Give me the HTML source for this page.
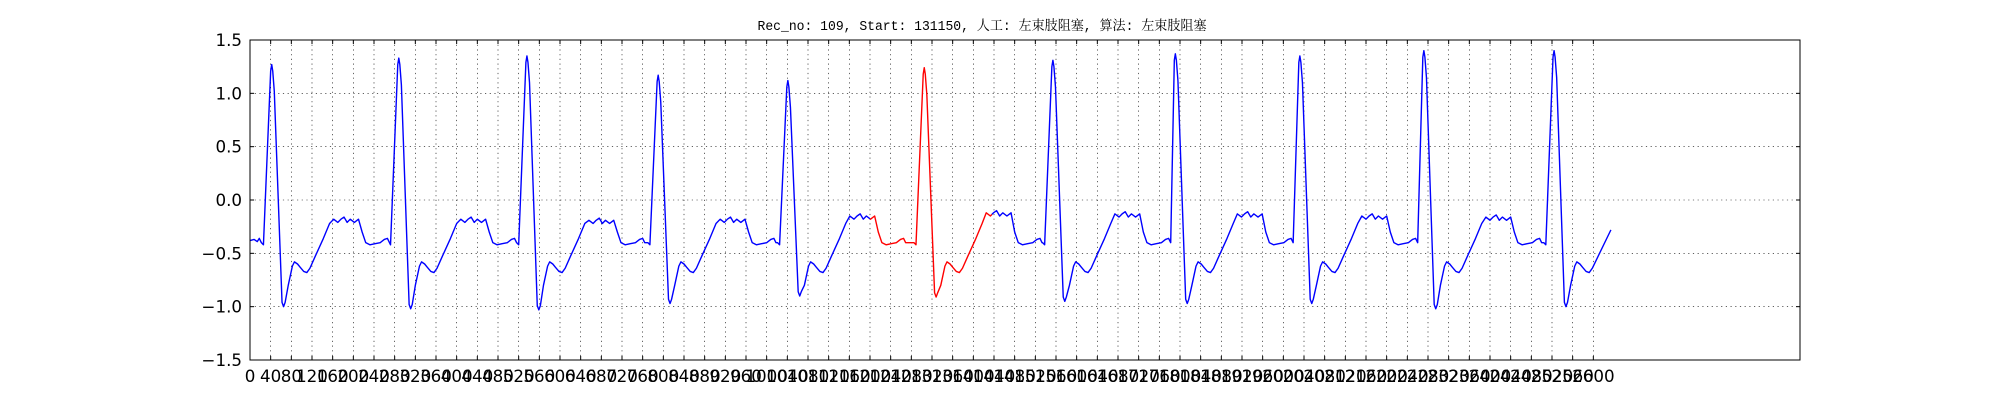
<!DOCTYPE html>
<html><head><meta charset="utf-8">
<style>
html,body{margin:0;padding:0;background:#fff;}
svg{display:block;}
</style></head>
<body>
<svg id="chart" width="2000" height="400" xmlns="http://www.w3.org/2000/svg">
  <rect x="0" y="0" width="2000" height="400" fill="#fff"/>
  <text x="982" y="30" text-anchor="middle" textLength="449" lengthAdjust="spacingAndGlyphs" font-size="13.5" font-family="'Liberation Mono','Noto Serif CJK SC',monospace" fill="#000">Rec_no: 109, Start: 131150, 人工: 左束肢阻塞, 算法: 左束肢阻塞</text>
  <g id="grid"></g>
  <g id="series"></g>
  <rect x="250" y="40" width="1550" height="320" fill="none" stroke="#000" stroke-width="1"/>
  <g id="ticks"></g>
</svg>
<script>
// ---- data ----
const rPeaks = [42, 288, 536, 790, 1041, 1305, 1554, 1791, 2032, 2272, 2524];
const rAmp   = [1.27, 1.33, 1.35, 1.17, 1.12, 1.24, 1.31, 1.37, 1.35, 1.40, 1.40];
const sAmp   = [-1.00, -1.02, -1.03, -0.97, -0.90, -0.91, -0.95, -0.97, -0.97, -1.02, -1.00];
const tAmp   = [-0.18, -0.18, -0.19, -0.18, -0.15, -0.12, -0.13, -0.13, -0.15, -0.16, -0.16];
const beatOffsets = [-20,-16,-2,0,2,5,20,23,26,32,40,44,50,55,62,68,74,85,100,112,120,128,134,140,146,152,160,168,175,182,190,200,210,218,224,228];
const beatValues  = [-0.40,-0.42,'P-',"P",'P-','P--','T+','T','T+',-0.80,-0.62,-0.58,-0.60,-0.63,-0.67,-0.68,-0.64,-0.52,-0.36,-0.22,'TP','TP-','TP','TP+','TP-','TP','TP-','TP',-0.30,-0.40,-0.42,-0.41,-0.40,-0.37,-0.36,-0.40];
const startValues = [[0,-0.38],[8,-0.37],[14,-0.39],[18,-0.36]];
const lastBeatCutoff = 74;
const endSample = 2634;
const endValue = -0.28;
const redStart = 1200, redEnd = 1436;
const xTickStep = 40, xTickMax = 2600, xMax = 3000;
const yTicks = [-1.5,-1.0,-0.5,0.0,0.5,1.0,1.5];
const yTickLabels = ["\u22121.5","\u22121.0","\u22120.5","0.0","0.5","1.0","1.5"];

// ---- axes ----
const L=250,R=1800,T=40,B=360;
const X = s => L + s/xMax*(R-L);
const Y = v => B - (v+1.5)/3*(B-T);
const NS="http://www.w3.org/2000/svg";
function mk(tag, attrs, parent){const e=document.createElementNS(NS,tag);for(const k in attrs)e.setAttribute(k,attrs[k]);parent.appendChild(e);return e;}

const pts = startValues.map(p=>[p[0],p[1]]);
rPeaks.forEach((r,i)=>{
  beatOffsets.forEach((o,j)=>{
    const s=r+o;
    if (i===rPeaks.length-1 && o>lastBeatCutoff) return;
    let v=beatValues[j];
    if (typeof v==='string'){
      if(v==='P')v=rAmp[i];else if(v==='P-')v=rAmp[i]-0.06;else if(v==='P--')v=rAmp[i]-0.25;
      else if(v==='T')v=sAmp[i];else if(v==='T+')v=sAmp[i]+0.04;
      else if(v==='TP')v=tAmp[i];else if(v==='TP-')v=tAmp[i]-0.03;else if(v==='TP+')v=tAmp[i]+0.02;
    }
    if (s>pts[pts.length-1][0]) pts.push([s,v]);
  });
});
pts.push([endSample,endValue]);

const grid=document.getElementById('grid');
const ticks=document.getElementById('ticks');
for(let t=0;t<=xTickMax;t+=xTickStep){
  const x=X(t);
  const g=mk('line',{x1:x,y1:T,x2:x,y2:B,stroke:'#000','stroke-width':0.6,'stroke-dasharray':'1.2,3.5'},grid);
  
  
  const a=mk('line',{x1:x,y1:B,x2:x,y2:B-4,stroke:'#000','stroke-width':1},ticks);
  
  
  const b=mk('line',{x1:x,y1:T,x2:x,y2:T+4,stroke:'#000','stroke-width':1},ticks);
  
  
  const lb=mk('text',{x:x,y:B+22,'text-anchor':'middle','font-size':16.7,'font-family':"'DejaVu Sans',sans-serif",fill:'#000'},ticks);
  lb.textContent=String(t);
  
  
}
yTicks.forEach((v,i)=>{
  const y=Y(v);
  const g=mk('line',{x1:L,y1:y,x2:R,y2:y,stroke:'#000','stroke-width':0.6,'stroke-dasharray':'1.2,3.5'},grid);
  
  
  const a=mk('line',{x1:L,y1:y,x2:L+4,y2:y,stroke:'#000','stroke-width':1},ticks);
  
  
  const b=mk('line',{x1:R,y1:y,x2:R-4,y2:y,stroke:'#000','stroke-width':1},ticks);
  
  
  const lb=mk('text',{x:L-8,y:y+6,'text-anchor':'end','font-size':16.7,'font-family':"'DejaVu Sans',sans-serif",fill:'#000'},ticks);
  lb.textContent=yTickLabels[i];
  
  
});

function valAt(s){for(let i=1;i<pts.length;i++){if(pts[i][0]>=s){const a=pts[i-1],b=pts[i];return a[1]+(b[1]-a[1])*(s-a[0])/(b[0]-a[0]);}}return pts[pts.length-1][1];}
const segA=pts.filter(p=>p[0]<redStart).concat([[redStart,valAt(redStart)]]);
const segR=[[redStart,valAt(redStart)]].concat(pts.filter(p=>p[0]>redStart&&p[0]<redEnd)).concat([[redEnd,valAt(redEnd)]]);
const segC=[[redEnd,valAt(redEnd)]].concat(pts.filter(p=>p[0]>redEnd));
const series=document.getElementById('series');
const toStr=a=>a.map(p=>X(p[0]).toFixed(2)+','+Y(p[1]).toFixed(2)).join(' ');
const l1=mk('polyline',{points:toStr(segA),fill:'none',stroke:'#0000ff','stroke-width':1.4,'stroke-linejoin':'round'},series);


const l2=mk('polyline',{points:toStr(segR),fill:'none',stroke:'#ff0000','stroke-width':1.4,'stroke-linejoin':'round'},series);


const l3=mk('polyline',{points:toStr(segC),fill:'none',stroke:'#0000ff','stroke-width':1.4,'stroke-linejoin':'round'},series);


</script>
</body></html>
